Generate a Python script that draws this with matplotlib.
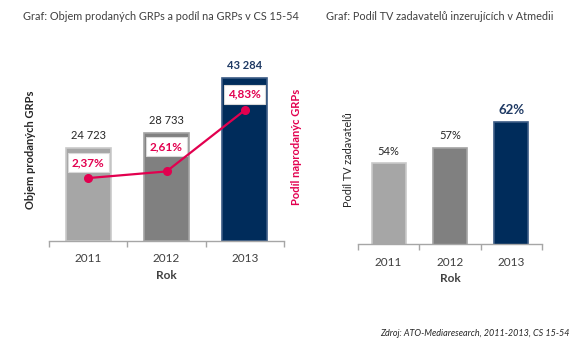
import numpy as np
import matplotlib
matplotlib.use("Agg")
import matplotlib.pyplot as plt

plt.rcParams['font.family'] = ['Lato', 'DejaVu Sans']

### Data
years = ['2011', '2012', '2013']
grps_sold = [24723, 28733, 43284]
grps_share = [2.37, 2.61, 4.83]
advertiser_share = [54, 57, 62]

### Style
bar_colors = ['#A6A6A6', '#808080', '#002C5B']
edge_colors = ['#C9C9C9', '#A3A3A3', '#3B5B85']
pink = '#E2004F'
navy = '#1F3A64'
txt = '#404040'

fig = plt.figure(figsize=(5.8, 3.55), dpi=100)
W, H = 580, 355


def ax_rect(x0, x1, ytop, ybot):
    return [x0 / W, (H - ybot) / H, (x1 - x0) / W, (ybot - ytop) / H]


def style_axis(ax):
    for s in ['top', 'left', 'right']:
        ax.spines[s].set_visible(False)
    ax.spines['bottom'].set_color('#A6A6A6')
    ax.spines['bottom'].set_linewidth(1.0)
    ax.set_yticks([])
    ax.set_xlim(-0.5, 2.5)
    ax.set_xticks(range(3))
    ax.set_xticklabels(years, fontsize=8.5, color=txt)
    ax.tick_params(axis='x', which='major', length=0, pad=9)
    ax.set_xticks([-0.5, 0.5, 1.5, 2.5], minor=True)
    ax.tick_params(axis='x', which='minor', length=4, color='#A6A6A6', width=1)
    ax.set_xlabel('Rok', fontsize=8.5, fontweight='bold', color=txt, labelpad=4)
    ax.patch.set_alpha(0)


# left chart
x = np.arange(len(years))
ax1 = fig.add_axes(ax_rect(49, 284, 60.5, 241))
ax1.bar(x, grps_sold, width=0.575, color=bar_colors, edgecolor=edge_colors, linewidth=1.2)
ax1.set_ylim(0, 48000)
style_axis(ax1)
for i, v in enumerate(grps_sold):
    last = i == len(grps_sold) - 1
    ax1.annotate(f'{v:,}'.replace(',', ' '), (i, v), xytext=(0, 9), textcoords='offset points',
                 ha='center', va='center', fontsize=8,
                 fontweight='bold' if last else 'normal', color=navy if last else '#262626')

ax1b = ax1.twinx()
ax1b.set_ylim(0.09, 6.63)
ax1b.axis('off')
ax1b.plot(x, grps_share, color=pink, lw=1.6, marker='o', ms=5.5, zorder=5)
pct_offsets = [11, 18, 11.5]
for i, v in enumerate(grps_share):
    ax1b.annotate(f'{v:.2f}%'.replace('.', ','), (i, v), xytext=(0, pct_offsets[i]),
                  textcoords='offset points', ha='center', va='center', fontsize=8.5,
                  fontweight='bold', color=pink,
                  bbox=dict(boxstyle='square,pad=0.35', fc='white', ec='#D9D9D9', lw=0.8))

# right chart
ax2 = fig.add_axes(ax_rect(358, 542, 60.5, 244))
ax2.bar(x, advertiser_share, width=0.555, color=bar_colors, edgecolor=edge_colors, linewidth=1.2)
ax2.set_ylim(38.2, 74)
style_axis(ax2)
for i, v in enumerate(advertiser_share):
    last = i == len(advertiser_share) - 1
    ax2.annotate(f'{v}%', (i, v), xytext=(0, 8.5), textcoords='offset points',
                 ha='center', va='center', fontsize=9.5 if last else 8,
                 fontweight='bold' if last else 'normal', color=navy if last else '#262626')

# axis titles
fig.text(31 / W, 1 - 150 / H, 'Objem prodaných GRPs', rotation=90, ha='center', va='center',
         fontsize=8, fontweight='bold', color='#262626')
fig.text(297 / W, 1 - 147 / H, 'Podíl naprodanýc GRPs', rotation=90, ha='center', va='center',
         fontsize=8, fontweight='bold', color=pink)
fig.text(349 / W, 1 - 160 / H, 'Podíl TV zadavatelů', rotation=90, ha='center', va='center',
         fontsize=7.8, color='#262626')

# chart titles and source
fig.text(161 / W, 1 - 16 / H, 'Graf: Objem prodaných GRPs a podíl na GRPs v CS 15-54',
         ha='center', va='center', fontsize=7.8, color=txt)
fig.text(440 / W, 1 - 16 / H, 'Graf: Podíl TV zadavatelů inzerujících v Atmedii',
         ha='center', va='center', fontsize=7.8, color=txt)
fig.text(570 / W, 1 - 333 / H, 'Zdroj: ATO-Mediaresearch, 2011-2013, CS 15-54',
         ha='right', va='center', fontsize=6.5, style='italic', color='#262626')

fig.savefig('out.png', dpi=100)
